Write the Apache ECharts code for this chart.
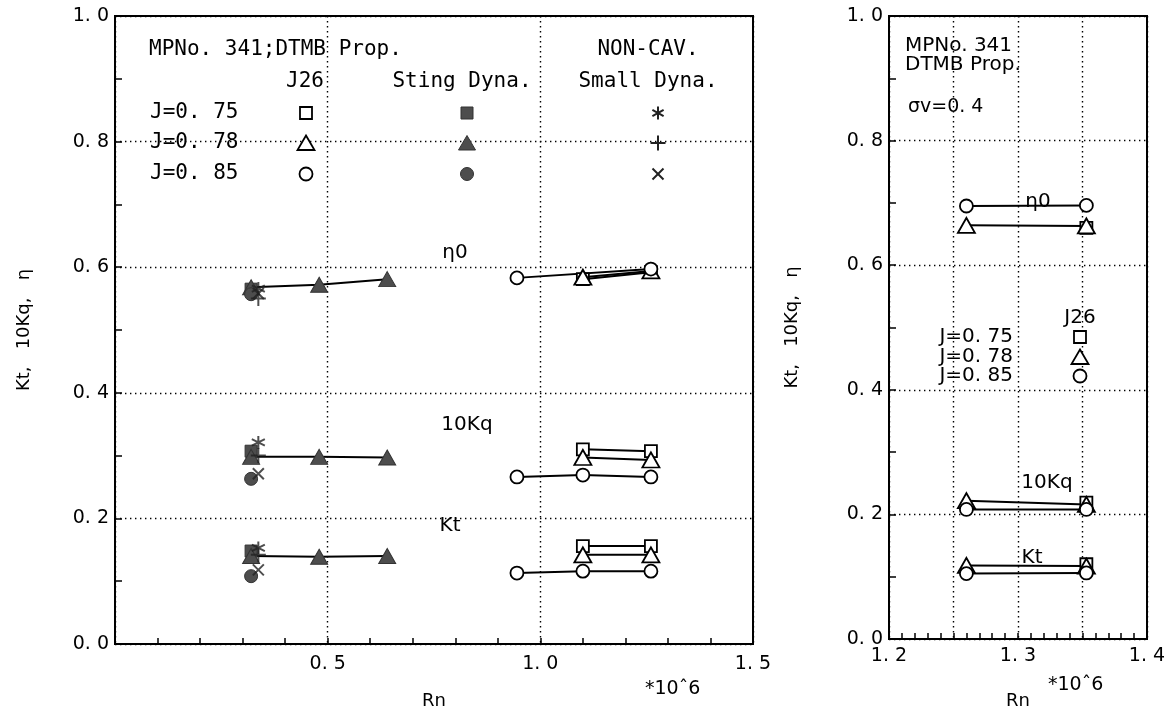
<!DOCTYPE html>
<html><head><meta charset="utf-8">
<script src="https://cdn.jsdelivr.net/npm/echarts@6/dist/echarts.min.js"></script>
<style>html,body{margin:0;padding:0;background:#fff}#c{width:1173px;height:715px}</style>
</head><body><div id="c"></div>
<script>
// ===== Left panel (Rn in units of 10^6) =====
// J26 (NON-CAV.) tunnel
const rnJ26 = [0.945, 1.10, 1.26];
const j26EtaJ075 = [null, 0.581, 0.592];
const j26EtaJ078 = [null, 0.584, 0.594];
const j26EtaJ085 = [0.583, null, 0.597];
const j26KqJ075 = [null, 0.310, 0.307];
const j26KqJ078 = [null, 0.297, 0.293];
const j26KqJ085 = [0.266, 0.269, 0.266];
const j26KtJ075 = [null, 0.156, 0.156];
const j26KtJ078 = [null, 0.142, 0.142];
const j26KtJ085 = [0.113, 0.116, 0.116];
// Sting dynamometer
const rnSting = [0.32, 0.48, 0.64];
const stingEtaJ075 = [0.565, null, null];
const stingEtaJ078 = [0.568, 0.572, 0.581];
const stingEtaJ085 = [0.557, null, null];
const stingKqJ075 = [0.307, null, null];
const stingKqJ078 = [0.298, 0.298, 0.297];
const stingKqJ085 = [0.263, null, null];
const stingKtJ075 = [0.148, null, null];
const stingKtJ078 = [0.140, 0.139, 0.140];
const stingKtJ085 = [0.108, null, null];
// Small dynamometer
const rnSmall = [0.337];
const smallEtaJ075 = [0.566];
const smallEtaJ078 = [0.550];
const smallEtaJ085 = [0.558];
const smallKqJ075 = [0.321];
const smallKqJ078 = [0.300];
const smallKqJ085 = [0.271];
const smallKtJ075 = [0.153];
const smallKtJ078 = [0.142];
const smallKtJ085 = [0.118];

// ===== Right panel (sigma v = 0.4) =====
const rnRight = [1.260, 1.353];
const rEtaJ075 = [null, 0.660];
const rEtaJ078 = [0.664, 0.663];
const rEtaJ085 = [0.695, 0.696];
const rKqJ075 = [null, 0.219];
const rKqJ078 = [0.222, 0.216];
const rKqJ085 = [0.208, 0.208];
const rKtJ075 = [null, 0.120];
const rKtJ078 = [0.118, 0.117];
const rKtJ085 = [0.105, 0.106];

const jLabels = ['J=0. 75', 'J=0. 78', 'J=0. 85'];
const yAxisTitle = 'Kt,   10Kq,   \u03b7';
const xAxisTitle = 'Rn';

// ---------- styles ----------
const MONO = 'DejaVu Sans Mono';
const SANS = 'DejaVu Sans';
const STAR = 'path://M5,0L5,10M0.67,2.5L9.33,7.5M0.67,7.5L9.33,2.5';
const PLUS = 'path://M5,0L5,10M0,5L10,5';
const CROSS = 'path://M0,0L10,10M0,10L10,0';
const hollow = {color:'#fff', borderColor:'#000', borderWidth:1.8};
const filled = {color:'#4d4d4d', borderColor:'#333', borderWidth:1};
const strokeOnly = {color:'rgba(0,0,0,0)', borderColor:'#222', borderWidth:2};
const shapes = [
  {symbol:'rect', size:12},
  {symbol:'triangle', size:[17,15]},
  {symbol:'circle', size:13}
];
const smallShapes = [{symbol:STAR,size:13},{symbol:PLUS,size:15},{symbol:CROSS,size:11}];

function pairs(xs, ys){
  const out=[];
  xs.forEach((x,i)=>{ if(ys[i]!==null && ys[i]!==undefined) out.push([x, ys[i]]); });
  return out;
}
const series=[];
function addLine(xs, ys, shape, style, gi, withLine){
  series.push({
    type: withLine ? 'line' : 'scatter',
    xAxisIndex: gi, yAxisIndex: gi,
    data: pairs(xs, ys),
    symbol: shape.symbol, symbolSize: shape.size,
    showSymbol: true,
    itemStyle: style,
    lineStyle: {color:'#000', width:2},
    animation:false, silent:true, z: 3
  });
}
// Left: J26
[[j26EtaJ075,j26KqJ075,j26KtJ075],[j26EtaJ078,j26KqJ078,j26KtJ078],[j26EtaJ085,j26KqJ085,j26KtJ085]]
 .forEach((grp,k)=>grp.forEach(ys=>addLine(rnJ26, ys, shapes[k], hollow, 0, true)));
// Left: Sting
[[stingEtaJ075,stingKqJ075,stingKtJ075],[stingEtaJ078,stingKqJ078,stingKtJ078],[stingEtaJ085,stingKqJ085,stingKtJ085]]
 .forEach((grp,k)=>grp.forEach(ys=>addLine(rnSting, ys, shapes[k], filled, 0, true)));
// Left: Small dyna
[[smallEtaJ075,smallKqJ075,smallKtJ075],[smallEtaJ078,smallKqJ078,smallKtJ078],[smallEtaJ085,smallKqJ085,smallKtJ085]]
 .forEach((grp,k)=>grp.forEach(ys=>addLine(rnSmall, ys, smallShapes[k], strokeOnly, 0, false)));
// Right
[[rEtaJ075,rKqJ075,rKtJ075],[rEtaJ078,rKqJ078,rKtJ078],[rEtaJ085,rKqJ085,rKtJ085]]
 .forEach((grp,k)=>grp.forEach(ys=>addLine(rnRight, ys, shapes[k], hollow, 1, true)));

const dotted = {show:true, lineStyle:{color:'#000', width:1.4, type:[1.4,3.6]}};
const fmtNum = v => v.toFixed(1).replace('.', '. ');
const axisLbl = {color:'#000', fontFamily:SANS, fontSize:19};

function yAxis(gi, gap){
  return {
    type:'value', gridIndex:gi, min:0, max:1, interval:0.2,
    axisLine:{show:true, lineStyle:{color:'#000', width:2}},
    axisTick:{show:true, inside:true, length:7, lineStyle:{color:'#000', width:1.5}},
    minorTick:{show:true, splitNumber:2, length:7, lineStyle:{color:'#000', width:1.5}},
    splitLine: dotted,
    axisLabel: Object.assign({formatter:fmtNum, margin:6}, axisLbl),
    name: yAxisTitle, nameLocation:'middle', nameGap:gap,
    nameTextStyle:{color:'#000', fontFamily:SANS, fontSize:18}
  };
}

const option = {
  backgroundColor:'#fff',
  animation:false,
  grid:[
    {left:115, top:16, width:638, height:636, show:true, borderColor:'#000', borderWidth:2, backgroundColor:'transparent'},
    {left:889, top:16, width:258, height:636, show:true, borderColor:'#000', borderWidth:2, backgroundColor:'transparent'}
  ],
  xAxis:[
    {type:'value', gridIndex:0, min:0, max:1.5, interval:0.5,
     axisLine:{show:true, lineStyle:{color:'#000', width:2}},
     axisTick:{show:true, inside:true, length:6, lineStyle:{color:'#000', width:1.5}},
     minorTick:{show:true, splitNumber:5, length:6, lineStyle:{color:'#000', width:1.5}},
     splitLine: dotted,
     axisLabel: Object.assign({formatter: v => v===0 ? '' : fmtNum(v), margin:11}, axisLbl),
     name: xAxisTitle, nameLocation:'middle', nameGap:48,
     nameTextStyle:{color:'#000', fontFamily:SANS, fontSize:18}},
    {type:'value', gridIndex:1, min:1.2, max:1.4, interval:0.05,
     axisLine:{show:true, lineStyle:{color:'#000', width:2}},
     axisTick:{show:true, inside:true, length:6, lineStyle:{color:'#000', width:1.5}},
     minorTick:{show:true, splitNumber:5, length:6, lineStyle:{color:'#000', width:1.5}},
     splitLine: dotted,
     axisLabel: Object.assign({formatter: v => Math.abs(v*10 - Math.round(v*10))<1e-6 ? fmtNum(v) : '', margin:8, showMinLabel:true, showMaxLabel:true}, axisLbl),
     name: xAxisTitle, nameLocation:'middle', nameGap:53,
     nameTextStyle:{color:'#000', fontFamily:SANS, fontSize:18}}
  ],
  yAxis:[ yAxis(0, 82), yAxis(1, 88) ],
  series: series,
  graphic: []
};

// ---------- annotations / legend (graphic) ----------
const G = option.graphic;
function txt(t, x, y, opts){
  opts = opts || {};
  G.push({type:'text', x:x, y:y, silent:true, z:10, style:{
    text:t, fill:'#000', font:(opts.size||21)+'px "'+(opts.font||MONO)+'"',
    align:opts.align||'left', verticalAlign:'middle',
    textAlign:opts.align||'left', textVerticalAlign:'middle'}});
}
function sym(kind, x, y, fill){
  const st = fill ? {fill:'#4d4d4d', stroke:'#333', lineWidth:1} : {fill:'#fff', stroke:'#000', lineWidth:1.8};
  if(kind===0) G.push({type:'rect', silent:true, z:10, shape:{x:x-6, y:y-6, width:12, height:12}, style:st});
  if(kind===1) G.push({type:'polygon', silent:true, z:10, shape:{points:[[x,y-7.5],[x+8.5,y+7],[x-8.5,y+7]]}, style:st});
  if(kind===2) G.push({type:'circle', silent:true, z:10, shape:{cx:x, cy:y, r:6.5}, style:st});
}
function lineSym(kind, x, y){
  const st = {stroke:'#222', lineWidth:2};
  let segs=[];
  if(kind===0){ segs=[[0,-6.5,0,6.5],[-5.6,-3.2,5.6,3.2],[-5.6,3.2,5.6,-3.2]]; }
  if(kind===1){ segs=[[0,-7.5,0,7.5],[-7.5,0,7.5,0]]; }
  if(kind===2){ segs=[[-5.5,-5.5,5.5,5.5],[-5.5,5.5,5.5,-5.5]]; }
  segs.forEach(s=>G.push({type:'line', silent:true, z:10, shape:{x1:x+s[0],y1:y+s[1],x2:x+s[2],y2:y+s[3]}, style:st}));
}
// Left legend
txt('MPNo. 341;DTMB Prop.', 149, 50);
txt('J26', 305, 82, {align:'center'});
txt('Sting Dyna.', 462, 82, {align:'center'});
txt('NON-CAV.', 648, 50, {align:'center'});
txt('Small Dyna.', 648, 82, {align:'center'});
const legRows = [113, 143, 174];
jLabels.forEach((l,i)=>{
  txt(l, 150, legRows[i]);
  sym(i, 306, legRows[i], false);
  sym(i, 467, legRows[i], true);
  lineSym(i, 658, legRows[i]);
});
txt('\u03b70', 455, 253, {align:'center', font:SANS, size:20});
txt('10Kq', 467, 425, {align:'center', font:SANS, size:20});
txt('Kt', 450, 526, {align:'center', font:SANS, size:20});
txt('*10\u02c66', 645, 689, {font:SANS, size:19});
// Right legend
txt('MPNo. 341', 905, 46, {font:SANS, size:20});
txt('DTMB Prop.', 905, 65, {font:SANS, size:20});
txt('\u03c3v=0. 4', 908, 107, {font:SANS, size:19});
txt('J26', 1080, 318, {align:'center', font:SANS, size:20});
const rRows = [337, 357, 376];
jLabels.forEach((l,i)=>{
  txt(l, 1013, rRows[i], {align:'right', font:SANS, size:20});
  sym(i, 1080, rRows[i], false);
});
txt('\u03b70', 1038, 202, {align:'center', font:SANS, size:20});
txt('10Kq', 1047, 483, {align:'center', font:SANS, size:20});
txt('Kt', 1032, 558, {align:'center', font:SANS, size:20});
txt('*10\u02c66', 1048, 685, {font:SANS, size:19});

const chart = echarts.init(document.getElementById('c'), null, {renderer:'canvas'});
chart.setOption(option);
</script>
</body></html>
